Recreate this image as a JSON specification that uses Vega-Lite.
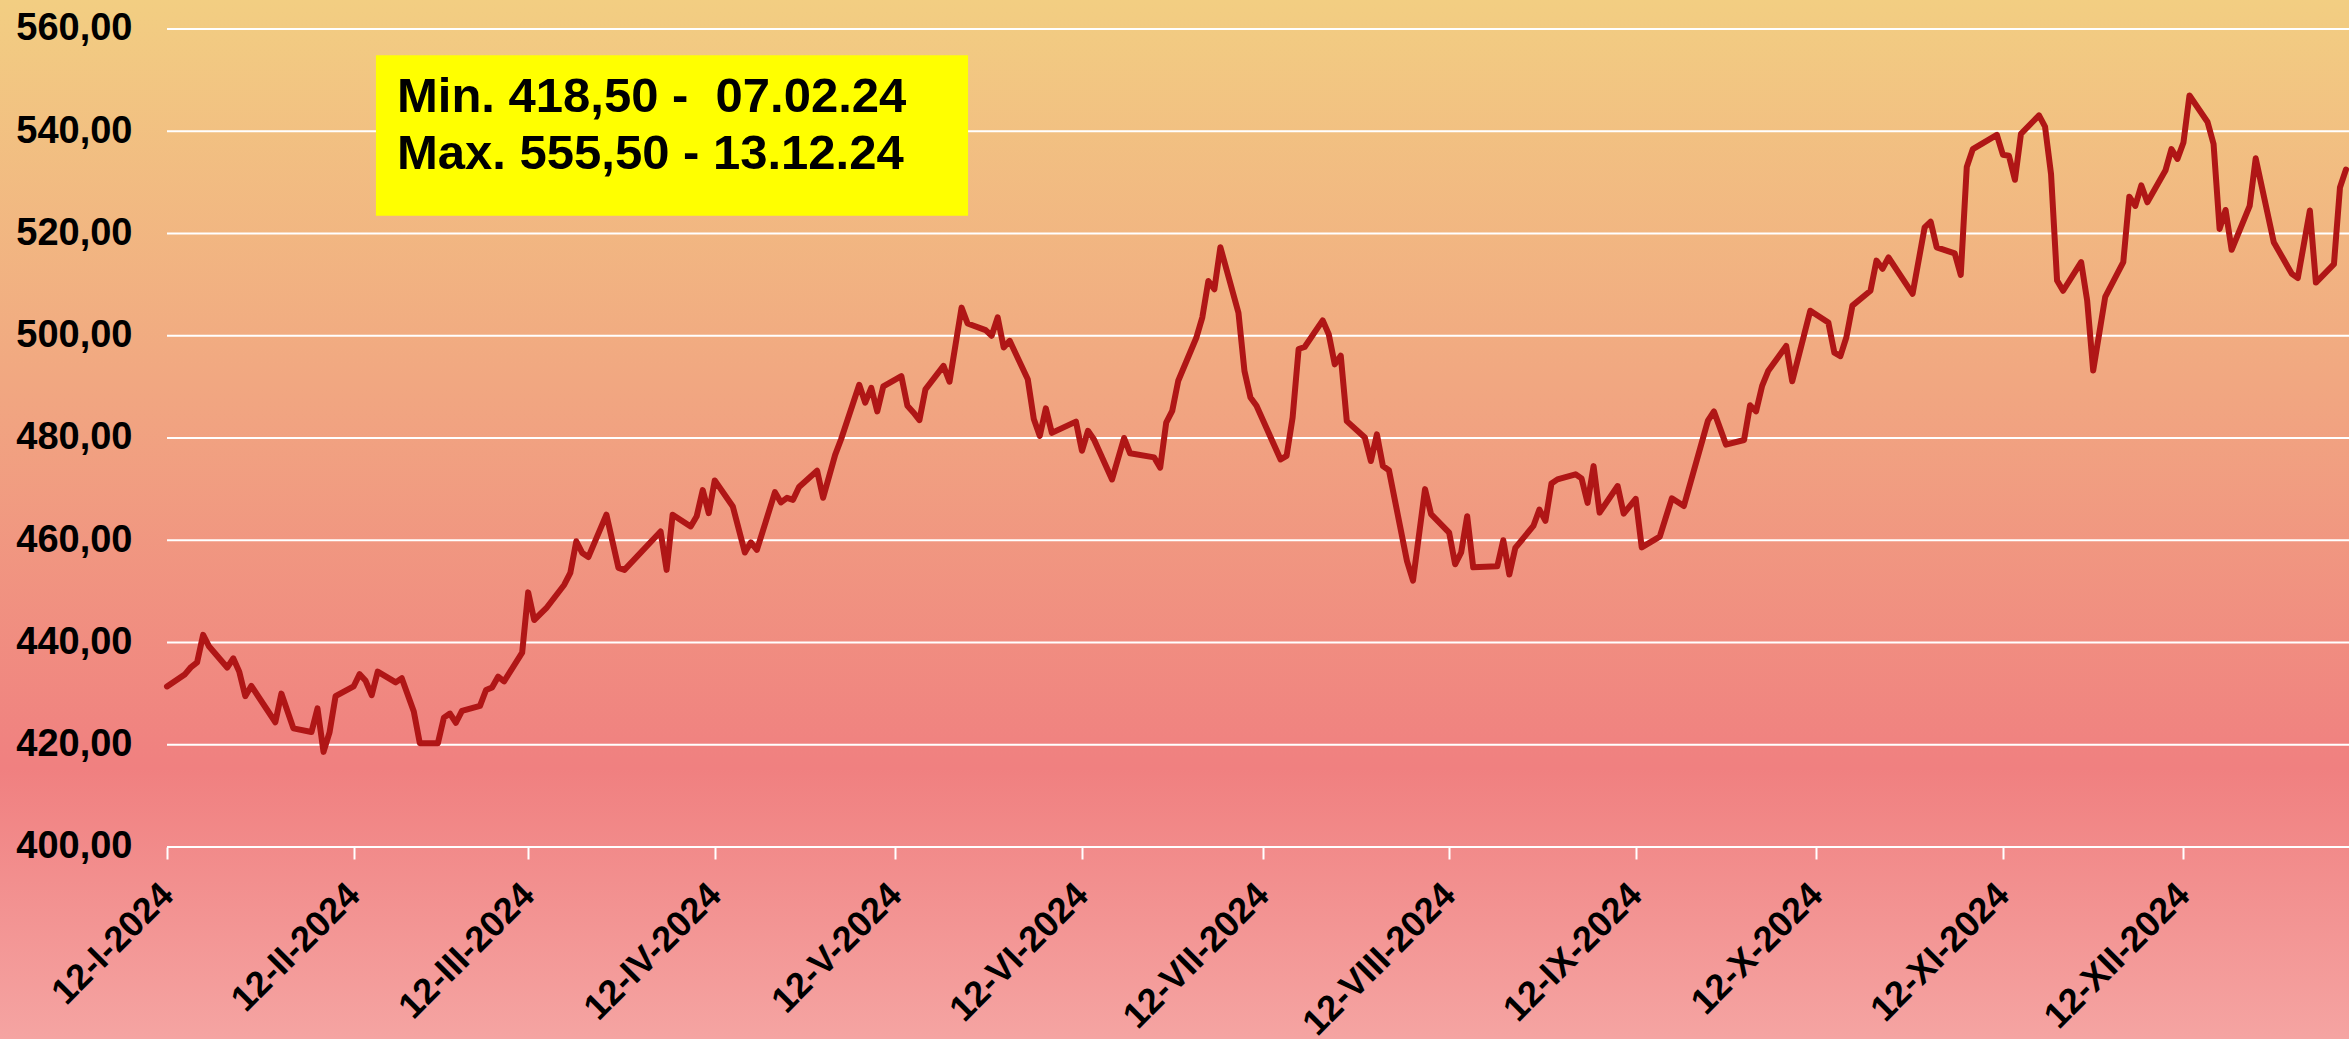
{
  "$schema": "https://vega.github.io/schema/vega-lite/v6.json",
  "width": 2349,
  "height": 1039,
  "autosize": {"type": "none"},
  "padding": 0,
  "background": "#F08080",
  "config": {
    "view": {
      "stroke": null,
      "fill": {
        "gradient": "linear", "x1": 0, "y1": 0, "x2": 0, "y2": 1,
        "stops": [
          {"offset": 0, "color": "#F2CE82"},
          {"offset": 0.74, "color": "#F08080"},
          {"offset": 1, "color": "#F5A4A2"}
        ]
      }
    },
    "axis": {
      "grid": false,
      "domain": false,
      "labelFont": "Liberation Sans",
      "labelFontWeight": "bold",
      "labelColor": "#000000",
      "labelOverlap": false,
      "labelFlush": false,
      "labelLimit": 0
    },
    "axisX": {
      "labelFontSize": 36,
      "labelAngle": -45,
      "labelAlign": "right",
      "labelBaseline": "middle",
      "labelPadding": 30,
      "labelBound": false,
      "tickColor": "#FFFFFF",
      "tickWidth": 2,
      "tickSize": 12
    },
    "axisY": {
      "labelFontSize": 38,
      "labelPadding": 35,
      "ticks": false,
      "tickSize": 0
    }
  },
  "data": {"values": [
    {"date": "2024-01-12", "value": 431.4},
    {"date": "2024-01-15", "value": 433.8},
    {"date": "2024-01-16", "value": 435.2},
    {"date": "2024-01-17", "value": 436.1},
    {"date": "2024-01-18", "value": 441.5},
    {"date": "2024-01-19", "value": 439.2},
    {"date": "2024-01-22", "value": 435.1},
    {"date": "2024-01-23", "value": 436.9},
    {"date": "2024-01-24", "value": 434.3},
    {"date": "2024-01-25", "value": 429.5},
    {"date": "2024-01-26", "value": 431.5},
    {"date": "2024-01-30", "value": 424.4},
    {"date": "2024-01-31", "value": 430.0},
    {"date": "2024-02-02", "value": 423.2},
    {"date": "2024-02-05", "value": 422.5},
    {"date": "2024-02-06", "value": 427.1},
    {"date": "2024-02-07", "value": 418.6},
    {"date": "2024-02-08", "value": 422.4},
    {"date": "2024-02-09", "value": 429.5},
    {"date": "2024-02-12", "value": 431.4},
    {"date": "2024-02-13", "value": 433.8},
    {"date": "2024-02-14", "value": 432.5},
    {"date": "2024-02-15", "value": 429.7},
    {"date": "2024-02-16", "value": 434.3},
    {"date": "2024-02-19", "value": 432.2},
    {"date": "2024-02-20", "value": 433.0},
    {"date": "2024-02-22", "value": 426.5},
    {"date": "2024-02-23", "value": 420.3},
    {"date": "2024-02-26", "value": 420.3},
    {"date": "2024-02-27", "value": 425.3},
    {"date": "2024-02-28", "value": 426.1},
    {"date": "2024-02-29", "value": 424.3},
    {"date": "2024-03-01", "value": 426.6},
    {"date": "2024-03-04", "value": 427.6},
    {"date": "2024-03-05", "value": 430.7},
    {"date": "2024-03-06", "value": 431.2},
    {"date": "2024-03-07", "value": 433.3},
    {"date": "2024-03-08", "value": 432.4},
    {"date": "2024-03-11", "value": 438.0},
    {"date": "2024-03-12", "value": 449.8},
    {"date": "2024-03-13", "value": 444.4},
    {"date": "2024-03-15", "value": 446.7},
    {"date": "2024-03-18", "value": 451.3},
    {"date": "2024-03-19", "value": 453.6},
    {"date": "2024-03-20", "value": 459.8},
    {"date": "2024-03-21", "value": 457.5},
    {"date": "2024-03-22", "value": 456.7},
    {"date": "2024-03-25", "value": 465.0},
    {"date": "2024-03-27", "value": 454.6},
    {"date": "2024-03-28", "value": 454.2},
    {"date": "2024-04-03", "value": 461.7},
    {"date": "2024-04-04", "value": 454.2},
    {"date": "2024-04-05", "value": 465.0},
    {"date": "2024-04-08", "value": 462.7},
    {"date": "2024-04-09", "value": 464.7},
    {"date": "2024-04-10", "value": 469.8},
    {"date": "2024-04-11", "value": 465.3},
    {"date": "2024-04-12", "value": 471.7},
    {"date": "2024-04-15", "value": 466.6},
    {"date": "2024-04-17", "value": 457.6},
    {"date": "2024-04-18", "value": 459.6},
    {"date": "2024-04-19", "value": 458.1},
    {"date": "2024-04-22", "value": 469.4},
    {"date": "2024-04-23", "value": 467.4},
    {"date": "2024-04-24", "value": 468.3},
    {"date": "2024-04-25", "value": 467.9},
    {"date": "2024-04-26", "value": 470.4},
    {"date": "2024-04-29", "value": 473.6},
    {"date": "2024-04-30", "value": 468.3},
    {"date": "2024-05-02", "value": 476.7},
    {"date": "2024-05-03", "value": 479.8},
    {"date": "2024-05-06", "value": 490.4},
    {"date": "2024-05-07", "value": 486.9},
    {"date": "2024-05-08", "value": 489.8},
    {"date": "2024-05-09", "value": 485.2},
    {"date": "2024-05-10", "value": 490.1},
    {"date": "2024-05-13", "value": 492.1},
    {"date": "2024-05-14", "value": 486.3},
    {"date": "2024-05-15", "value": 485.0},
    {"date": "2024-05-16", "value": 483.5},
    {"date": "2024-05-17", "value": 489.5},
    {"date": "2024-05-20", "value": 494.1},
    {"date": "2024-05-21", "value": 491.0},
    {"date": "2024-05-23", "value": 505.5},
    {"date": "2024-05-24", "value": 502.4},
    {"date": "2024-05-27", "value": 501.1},
    {"date": "2024-05-28", "value": 500.0},
    {"date": "2024-05-29", "value": 503.6},
    {"date": "2024-05-30", "value": 497.7},
    {"date": "2024-05-31", "value": 499.0},
    {"date": "2024-06-03", "value": 491.5},
    {"date": "2024-06-04", "value": 483.7},
    {"date": "2024-06-05", "value": 480.4},
    {"date": "2024-06-06", "value": 485.8},
    {"date": "2024-06-07", "value": 481.0},
    {"date": "2024-06-11", "value": 483.2},
    {"date": "2024-06-12", "value": 477.5},
    {"date": "2024-06-13", "value": 481.4},
    {"date": "2024-06-14", "value": 479.7},
    {"date": "2024-06-17", "value": 471.9},
    {"date": "2024-06-19", "value": 480.0},
    {"date": "2024-06-20", "value": 477.0},
    {"date": "2024-06-24", "value": 476.2},
    {"date": "2024-06-25", "value": 474.2},
    {"date": "2024-06-26", "value": 483.0},
    {"date": "2024-06-27", "value": 485.3},
    {"date": "2024-06-28", "value": 491.2},
    {"date": "2024-07-01", "value": 499.6},
    {"date": "2024-07-02", "value": 503.6},
    {"date": "2024-07-03", "value": 510.7},
    {"date": "2024-07-04", "value": 509.1},
    {"date": "2024-07-05", "value": 517.3},
    {"date": "2024-07-08", "value": 504.5},
    {"date": "2024-07-09", "value": 493.1},
    {"date": "2024-07-10", "value": 487.9},
    {"date": "2024-07-11", "value": 486.3},
    {"date": "2024-07-15", "value": 475.8},
    {"date": "2024-07-16", "value": 476.5},
    {"date": "2024-07-17", "value": 484.0},
    {"date": "2024-07-18", "value": 497.4},
    {"date": "2024-07-19", "value": 497.8},
    {"date": "2024-07-22", "value": 503.0},
    {"date": "2024-07-23", "value": 500.3},
    {"date": "2024-07-24", "value": 494.4},
    {"date": "2024-07-25", "value": 496.1},
    {"date": "2024-07-26", "value": 483.3},
    {"date": "2024-07-29", "value": 480.1},
    {"date": "2024-07-30", "value": 475.5},
    {"date": "2024-07-31", "value": 480.7},
    {"date": "2024-08-01", "value": 474.5},
    {"date": "2024-08-02", "value": 473.7},
    {"date": "2024-08-05", "value": 455.9},
    {"date": "2024-08-06", "value": 452.1},
    {"date": "2024-08-08", "value": 470.0},
    {"date": "2024-08-09", "value": 465.1},
    {"date": "2024-08-12", "value": 461.5},
    {"date": "2024-08-13", "value": 455.3},
    {"date": "2024-08-14", "value": 457.6},
    {"date": "2024-08-15", "value": 464.7},
    {"date": "2024-08-16", "value": 454.7},
    {"date": "2024-08-20", "value": 454.9},
    {"date": "2024-08-21", "value": 460.0},
    {"date": "2024-08-22", "value": 453.3},
    {"date": "2024-08-23", "value": 458.5},
    {"date": "2024-08-26", "value": 462.8},
    {"date": "2024-08-27", "value": 466.0},
    {"date": "2024-08-28", "value": 463.8},
    {"date": "2024-08-29", "value": 471.1},
    {"date": "2024-08-30", "value": 471.9},
    {"date": "2024-09-02", "value": 472.9},
    {"date": "2024-09-03", "value": 472.1},
    {"date": "2024-09-04", "value": 467.3},
    {"date": "2024-09-05", "value": 474.5},
    {"date": "2024-09-06", "value": 465.4},
    {"date": "2024-09-09", "value": 470.6},
    {"date": "2024-09-10", "value": 465.2},
    {"date": "2024-09-12", "value": 468.1},
    {"date": "2024-09-13", "value": 458.6},
    {"date": "2024-09-16", "value": 460.7},
    {"date": "2024-09-18", "value": 468.2},
    {"date": "2024-09-20", "value": 466.7},
    {"date": "2024-09-24", "value": 483.4},
    {"date": "2024-09-25", "value": 485.2},
    {"date": "2024-09-27", "value": 478.7},
    {"date": "2024-09-30", "value": 479.6},
    {"date": "2024-10-01", "value": 486.4},
    {"date": "2024-10-02", "value": 485.2},
    {"date": "2024-10-03", "value": 490.2},
    {"date": "2024-10-04", "value": 493.1},
    {"date": "2024-10-07", "value": 498.0},
    {"date": "2024-10-08", "value": 491.1},
    {"date": "2024-10-11", "value": 504.9},
    {"date": "2024-10-14", "value": 502.6},
    {"date": "2024-10-15", "value": 496.7},
    {"date": "2024-10-16", "value": 496.0},
    {"date": "2024-10-17", "value": 499.7},
    {"date": "2024-10-18", "value": 505.9},
    {"date": "2024-10-21", "value": 508.8},
    {"date": "2024-10-22", "value": 514.7},
    {"date": "2024-10-23", "value": 513.1},
    {"date": "2024-10-24", "value": 515.3},
    {"date": "2024-10-28", "value": 508.2},
    {"date": "2024-10-30", "value": 521.2},
    {"date": "2024-10-31", "value": 522.3},
    {"date": "2024-11-01", "value": 517.3},
    {"date": "2024-11-04", "value": 516.1},
    {"date": "2024-11-05", "value": 511.9},
    {"date": "2024-11-06", "value": 533.0},
    {"date": "2024-11-07", "value": 536.5},
    {"date": "2024-11-11", "value": 539.3},
    {"date": "2024-11-12", "value": 535.4},
    {"date": "2024-11-13", "value": 535.2},
    {"date": "2024-11-14", "value": 530.5},
    {"date": "2024-11-15", "value": 539.5},
    {"date": "2024-11-18", "value": 543.1},
    {"date": "2024-11-19", "value": 540.9},
    {"date": "2024-11-20", "value": 531.6},
    {"date": "2024-11-21", "value": 510.8},
    {"date": "2024-11-22", "value": 508.8},
    {"date": "2024-11-25", "value": 514.4},
    {"date": "2024-11-26", "value": 506.9},
    {"date": "2024-11-27", "value": 493.2},
    {"date": "2024-11-29", "value": 507.6},
    {"date": "2024-12-02", "value": 514.4},
    {"date": "2024-12-03", "value": 527.2},
    {"date": "2024-12-04", "value": 525.4},
    {"date": "2024-12-05", "value": 529.4},
    {"date": "2024-12-06", "value": 526.1},
    {"date": "2024-12-09", "value": 532.3},
    {"date": "2024-12-10", "value": 536.5},
    {"date": "2024-12-11", "value": 534.6},
    {"date": "2024-12-12", "value": 537.8},
    {"date": "2024-12-13", "value": 547.0},
    {"date": "2024-12-16", "value": 541.8},
    {"date": "2024-12-17", "value": 537.5},
    {"date": "2024-12-18", "value": 520.9},
    {"date": "2024-12-19", "value": 524.6},
    {"date": "2024-12-20", "value": 516.8},
    {"date": "2024-12-23", "value": 525.4},
    {"date": "2024-12-24", "value": 534.7},
    {"date": "2024-12-27", "value": 518.3},
    {"date": "2024-12-30", "value": 512.1},
    {"date": "2024-12-31", "value": 511.3},
    {"date": "2025-01-02", "value": 524.5},
    {"date": "2025-01-03", "value": 510.4},
    {"date": "2025-01-06", "value": 514.0},
    {"date": "2025-01-07", "value": 529.0},
    {"date": "2025-01-08", "value": 532.5}
  ]},
  "layer": [
    {
      "data": {"values": [{"g": 400}, {"g": 420}, {"g": 440}, {"g": 460}, {"g": 480}, {"g": 500}, {"g": 520}, {"g": 540}, {"g": 560}]},
      "mark": {"type": "rule", "color": "#FFFFFF", "strokeWidth": 2},
      "encoding": {
        "x": {"datum": {"year": 2024, "month": 1, "date": 12, "utc": true}, "type": "temporal", "title": null},
        "x2": {"datum": {"year": 2025, "month": 1, "date": 20, "utc": true}},
        "y": {"field": "g", "type": "quantitative", "title": null}
      }
    },
    {
      "mark": {"type": "line", "color": "#B01616", "strokeWidth": 6, "strokeJoin": "round", "strokeCap": "round"},
      "encoding": {
        "x": {
          "field": "date", "type": "temporal", "title": null,
          "scale": {"type": "utc", "domain": [{"year": 2023, "month": 12, "date": 15, "hours": 6, "minutes": 6, "utc": true}, {"year": 2025, "month": 1, "date": 8, "hours": 12, "utc": true}]},
          "axis": {
            "title": null,
            "orient": "bottom",
            "offset": -192,
            "values": [
              {"year": 2024, "month": 1, "date": 12, "utc": true},
              {"year": 2024, "month": 2, "date": 12, "utc": true},
              {"year": 2024, "month": 3, "date": 12, "utc": true},
              {"year": 2024, "month": 4, "date": 12, "utc": true},
              {"year": 2024, "month": 5, "date": 12, "utc": true},
              {"year": 2024, "month": 6, "date": 12, "utc": true},
              {"year": 2024, "month": 7, "date": 12, "utc": true},
              {"year": 2024, "month": 8, "date": 12, "utc": true},
              {"year": 2024, "month": 9, "date": 12, "utc": true},
              {"year": 2024, "month": 10, "date": 12, "utc": true},
              {"year": 2024, "month": 11, "date": 12, "utc": true},
              {"year": 2024, "month": 12, "date": 12, "utc": true}
            ],
            "labelExpr": "utcdate(datum.value) + '-' + ['I','II','III','IV','V','VI','VII','VIII','IX','X','XI','XII'][utcmonth(datum.value)] + '-' + utcyear(datum.value)"
          }
        },
        "y": {
          "field": "value", "type": "quantitative", "title": null,
          "scale": {"domain": [362.44, 565.67], "nice": false, "zero": false},
          "axis": {
            "title": null,
            "orient": "left",
            "offset": -167,
            "values": [400, 420, 440, 460, 480, 500, 520, 540, 560],
            "labelExpr": "replace(format(datum.value, '.2f'), '.', ',')"
          }
        }
      }
    },
    {
      "data": {"values": [{}]},
      "mark": {"type": "rect", "fill": "#FFFF00"},
      "encoding": {
        "x": {"datum": {"year": 2024, "month": 2, "date": 15, "hours": 17, "utc": true}, "type": "temporal", "title": null},
        "x2": {"datum": {"year": 2024, "month": 5, "date": 24, "hours": 2, "utc": true}},
        "y": {"datum": 554.84, "type": "quantitative", "title": null},
        "y2": {"datum": 523.48}
      }
    },
    {
      "data": {"values": [{}]},
      "mark": {"type": "text", "align": "left", "baseline": "alphabetic", "font": "Liberation Sans", "fontWeight": "bold", "fontSize": 49, "lineHeight": 57, "color": "#000000"},
      "encoding": {
        "x": {"datum": {"year": 2024, "month": 2, "date": 19, "hours": 5, "utc": true}, "type": "temporal", "title": null},
        "y": {"datum": 543.77, "type": "quantitative", "title": null},
        "text": {"value": ["Min. 418,50 -\u00a0 07.02.24", "Max. 555,50 - 13.12.24"]}
      }
    }
  ]
}
